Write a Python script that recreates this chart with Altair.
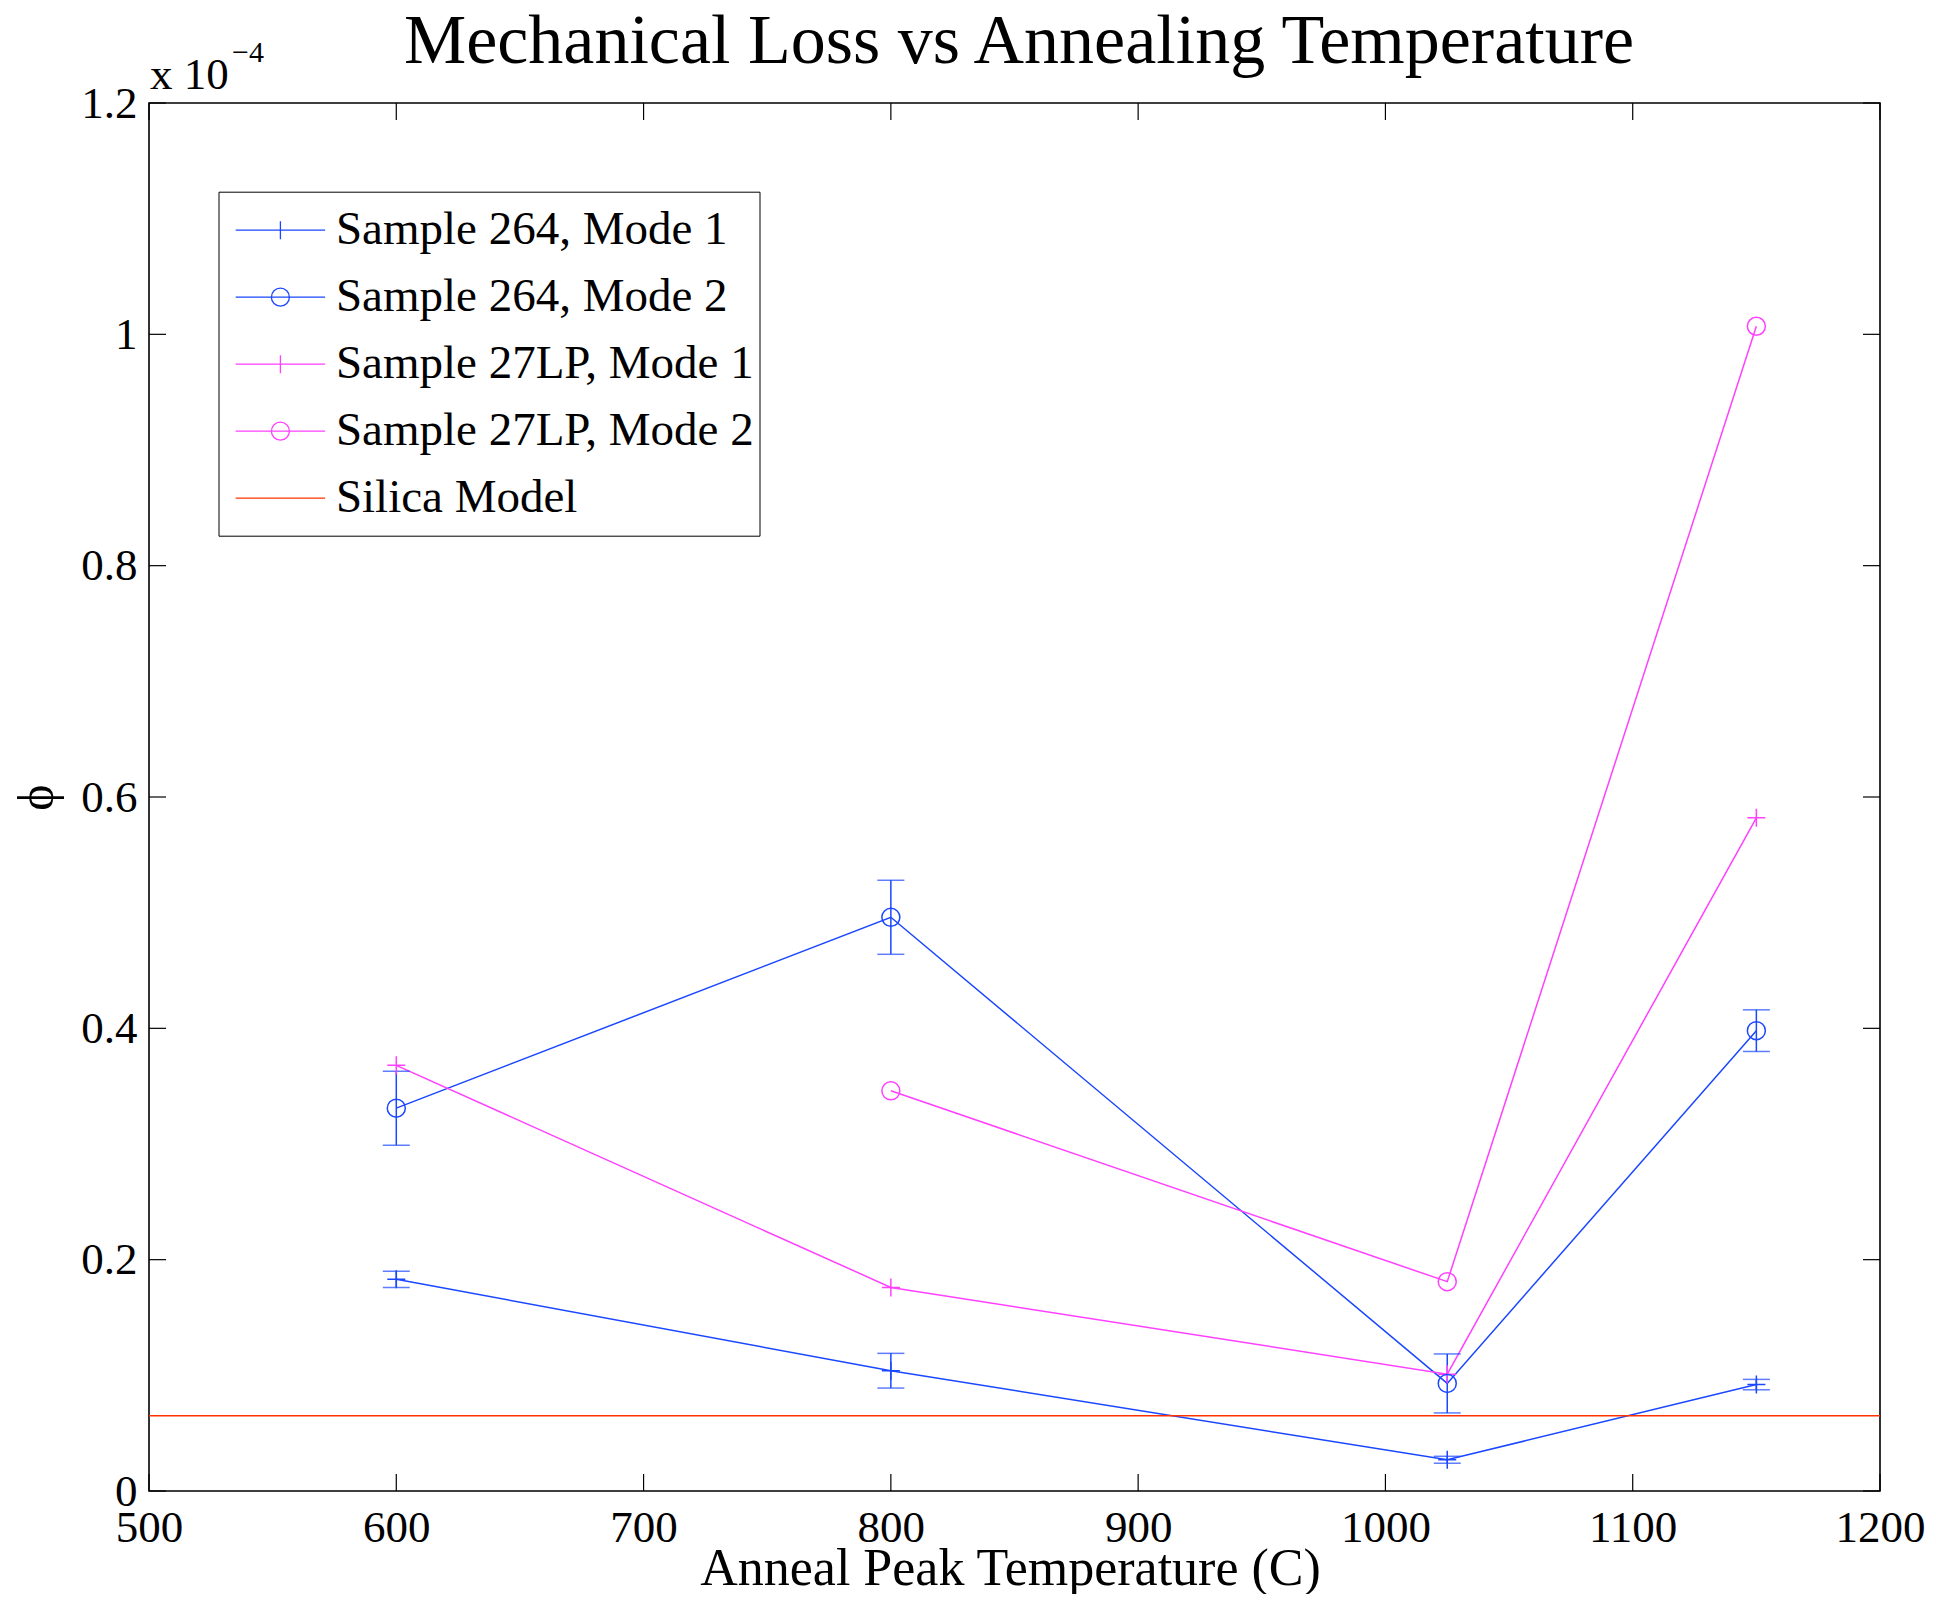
import altair as alt
import pandas as pd

# ---------------- data (phi in units of 1e-4) ----------------
series_names = ["Sample 264, Mode 1", "Sample 264, Mode 2",
                "Sample 27LP, Mode 1", "Sample 27LP, Mode 2", "Silica Model"]
series_colors = ["#1a47ff", "#1a47ff", "#ff40ff", "#ff40ff", "#ff3300"]
series_markers = ["plus", "circle", "plus", "circle", "none"]
errorbar_color = "#1a47ff"

temp_264 = [600, 800, 1025, 1150]
phi_264_m1 = [0.183, 0.104, 0.027, 0.092]
err_264_m1 = [0.007, 0.015, 0.003, 0.0045]
phi_264_m2 = [0.331, 0.496, 0.093, 0.398]
err_264_m2 = [0.032, 0.032, 0.0255, 0.018]

temp_27lp_m1 = [600, 800, 1025, 1150]
phi_27lp_m1 = [0.368, 0.176, 0.101, 0.582]
temp_27lp_m2 = [800, 1025, 1150]
phi_27lp_m2 = [0.346, 0.181, 1.007]

silica_temp = [500, 1200]
silica_phi = [0.065, 0.065]

x_ticks = [500, 600, 700, 800, 900, 1000, 1100, 1200]
y_ticks = [0, 0.2, 0.4, 0.6, 0.8, 1.0, 1.2]

title_text = ["Mechanical Loss vs Annealing Temperature"]
x_title = "Anneal Peak Temperature (C)"
y_title = "\u03d5"
exp_base = ["x 10"]
exp_power = ["\u22124"]

# ---------------- build table ----------------
rows = []
def add(name, temps, phis, errs=None):
    i = series_names.index(name)
    for k, (t, p) in enumerate(zip(temps, phis)):
        rows.append({"series": name, "temp": t, "phi": p,
                     "err": errs[k] if errs else 0.0,
                     "marker": series_markers[i]})

add(series_names[0], temp_264, phi_264_m1, err_264_m1)
add(series_names[1], temp_264, phi_264_m2, err_264_m2)
add(series_names[2], temp_27lp_m1, phi_27lp_m1)
add(series_names[3], temp_27lp_m2, phi_27lp_m2)
add(series_names[4], silica_temp, silica_phi)
df = pd.DataFrame(rows)

FONT = "Liberation Serif"
W, H = 1731, 1388
TICK = 17
SW = 1.5

xs = alt.Scale(domain=[500, 1200], nice=False, zero=False)
ys = alt.Scale(domain=[0, 1.2], nice=False, zero=False)
cs = alt.Scale(domain=series_names, range=series_colors)

x_axis = alt.Axis(values=x_ticks, format="d", title=x_title, labelFont=FONT,
                  labelFontSize=45, labelColor="black", labelPadding=14,
                  ticks=False, domain=False, grid=False,
                  labelFlush=False, labelOverlap=False,
                  titleFont=FONT, titleFontSize=52, titleFontWeight="normal",
                  titleColor="black", titleX=861, titleY=93, titleAlign="center",
                  titleBaseline="alphabetic")
y_axis = alt.Axis(values=y_ticks, format="~g", title=y_title, labelFont=FONT,
                  labelFontSize=45, labelColor="black", labelPadding=12,
                  ticks=False, domain=False, grid=False,
                  labelOverlap=False, labelFlush=False,
                  titleFont=FONT, titleFontSize=50, titleFontWeight="normal",
                  titleColor="black", titleX=-97, titleY=H / 2, titleAngle=270,
                  titleAlign="center", titleBaseline="alphabetic")

# legend symbols: line with marker (custom paths); the trailing moves set row extent
L, R, E = 1.366, 0.275, 0.884
pad = f"M0,{-E}M0,{E}"
leg_plus = f"M{-L},0H{L}M0,{-R}V{R}" + pad
leg_circle = f"M{-L},0H{L}M{R},0A{R},{R} 0 1,1 {-R},0A{R},{R} 0 1,1 {R},0" + pad
leg_line = f"M{-L},0H{L}" + pad
leg_shapes = [leg_plus, leg_circle, leg_plus, leg_circle, leg_line]
shape_scale = alt.Scale(domain=series_names, range=leg_shapes)

legend = alt.Legend(title=None, orient="none", legendX=69.5, legendY=88.7,
                    direction="vertical", labelFont=FONT, labelFontSize=47,
                    labelColor="black", labelLimit=1000, symbolSize=4290,
                    symbolStrokeWidth=1.3, symbolOffset=23.4, labelOffset=22,
                    padding=5, rowPadding=1, strokeColor="black",
                    fillColor="white", cornerRadius=0, symbolOpacity=1,
                    symbolFillColor="transparent")

PLUS = "M-1,0H1M0,-1V1"

base = alt.Chart(df)

X = alt.X("temp:Q", scale=xs, axis=x_axis)
Y = alt.Y("phi:Q", scale=ys, axis=y_axis)
C = alt.Color("series:N", scale=cs, legend=legend)

legend_layer = base.mark_point(opacity=0, filled=False, size=4290,
                               strokeWidth=1.3).encode(
    x=X, y=Y, color=C,
    shape=alt.Shape("series:N", scale=shape_scale, legend=legend),
)

lines = base.mark_line(strokeWidth=SW).encode(x=X, y=Y, color=C)

errs = base.transform_filter("datum.err > 0").transform_calculate(
    lo="datum.phi - datum.err", hi="datum.phi + datum.err")

err_rules = errs.mark_rule(strokeWidth=SW, color=errorbar_color).encode(
    x=X, y=alt.Y("lo:Q", scale=ys, axis=y_axis), y2="hi:Q")

err_caps = errs.transform_fold(["lo", "hi"], as_=["end", "val"]).mark_tick(
    orient="horizontal", size=27, thickness=SW, color=errorbar_color).encode(
    x=X, y=alt.Y("val:Q", scale=ys, axis=y_axis))

plus_pts = base.transform_filter("datum.marker == 'plus'").mark_point(
    shape=PLUS, size=324, filled=False, strokeWidth=SW, opacity=1).encode(
    x=X, y=Y, color=C)

circ_pts = base.transform_filter("datum.marker == 'circle'").mark_point(
    shape="circle", size=324, filled=False, strokeWidth=SW, opacity=1).encode(
    x=X, y=Y, color=C)

# inward tick marks on all four sides
xt = alt.Chart(pd.DataFrame({"t": x_ticks}))
yt = alt.Chart(pd.DataFrame({"t": y_ticks}))
XT = alt.X("t:Q", scale=xs, axis=x_axis)
YT = alt.Y("t:Q", scale=ys, axis=y_axis)
tick_style = dict(color="black", strokeWidth=1.2)
x_tick_bottom = xt.mark_rule(**tick_style).encode(
    x=XT, y=alt.value(H), y2=alt.value(H - TICK))
x_tick_top = xt.mark_rule(**tick_style).encode(
    x=XT, y=alt.value(0), y2=alt.value(TICK))
y_tick_left = yt.mark_rule(**tick_style).encode(
    y=YT, x=alt.value(0), x2=alt.value(TICK))
y_tick_right = yt.mark_rule(**tick_style).encode(
    y=YT, x=alt.value(W - TICK), x2=alt.value(W))

# title and exponent annotation
title_mark = alt.Chart(pd.DataFrame({"label": title_text})).mark_text(
    font=FONT, fontSize=70, align="center", baseline="alphabetic", color="black"
).encode(x=alt.value(870), y=alt.value(-40), text="label:N")

exp_mark = alt.Chart(pd.DataFrame({"label": exp_base})).mark_text(
    font=FONT, fontSize=45, align="left", baseline="alphabetic", color="black"
).encode(x=alt.value(1), y=alt.value(-14), text="label:N")

pow_mark = alt.Chart(pd.DataFrame({"label": exp_power})).mark_text(
    font=FONT, fontSize=30, align="left", baseline="alphabetic", color="black"
).encode(x=alt.value(83), y=alt.value(-41), text="label:N")

chart = alt.layer(
    legend_layer, lines, err_rules, err_caps, plus_pts, circ_pts,
    x_tick_bottom, x_tick_top, y_tick_left, y_tick_right,
    title_mark, exp_mark, pow_mark,
).properties(
    width=W, height=H,
    autosize=alt.AutoSizeParams(type="none"),
    padding={"left": 141, "top": 95, "right": 48, "bottom": 103},
    background="white",
).configure_view(stroke="black", strokeWidth=1.6)

chart.save("out.html", embed_options={"renderer": "svg", "actions": False})
